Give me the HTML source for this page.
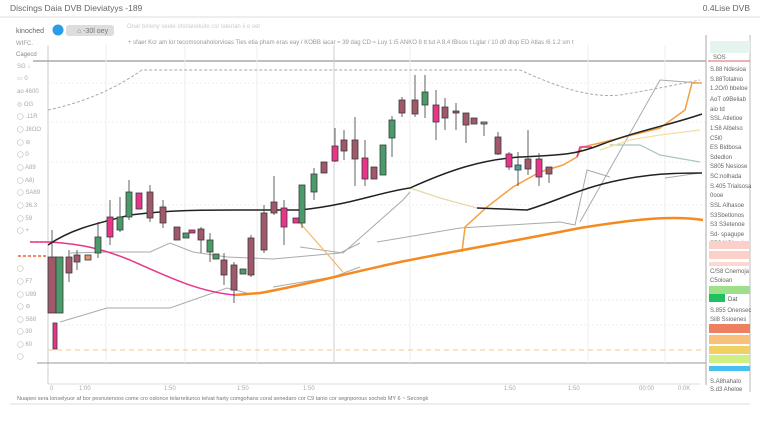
<!DOCTYPE html>
<html><head><meta charset="utf-8"><style>
html,body{margin:0;padding:0;background:#fff;}
body{width:760px;height:426px;overflow:hidden;font-family:"Liberation Sans",sans-serif;}
text{font-family:"Liberation Sans",sans-serif;}
</style></head><body>
<svg width="760" height="426" viewBox="0 0 760 426" xmlns="http://www.w3.org/2000/svg">
<rect width="760" height="426" fill="#fff"/>
<!-- header -->
<text x="10" y="11" font-size="8.5" fill="#666">Discings Daia DVB   Dieviatyys -189</text>
<text x="750" y="11" font-size="8.5" fill="#666" text-anchor="end">0.4Lise DVB</text>
<line x1="0" y1="17" x2="760" y2="17" stroke="#ddd"/>
<text x="16" y="33" font-size="7" fill="#666">kinoched</text>
<circle cx="58" cy="30" r="5.5" fill="#2a9ce8"/>
<rect x="66" y="25" width="48" height="11" rx="3" fill="#ddd"/>
<text x="77" y="33" font-size="7" fill="#777">⌂ -30l oey</text>
<text x="127" y="28" font-size="6" fill="#ccc">Onar  bineny seele oholaneluite csr laterian ii e oet</text>
<text x="128" y="44" font-size="6" fill="#999">+ sfaer Kcr am lor tecomsonaholorvioas  Ties etia pham eras eay   /  KOBB iacar  ≈ 39 dag CD ≈ Luy    1:i5 ANKO  8 tt tut  A 8.4 lBisos  t Lglar   /  10 d0 dlop  ED Atlas   /6 1.2 sm t</text>
<text x="16" y="45" font-size="6" fill="#999">WIFC.</text>
<text x="16" y="56" font-size="6" fill="#888">Cagecd</text>
<!-- left sidebar rows -->
<g font-size="6" fill="#aaa">
<text x="17" y="68">SG ↓</text><text x="17" y="80">▭  0</text><text x="17" y="93">ao 4600</text>
<text x="17" y="106">◎  OG</text><text x="17" y="118">◯ .11R</text><text x="17" y="131">◯ J8OO</text>
<text x="17" y="144">◯  ⊖</text><text x="17" y="156">◯   0</text><text x="17" y="169">◯ A89</text>
<text x="17" y="182">◯ A8)</text><text x="17" y="194">◯ SA89</text><text x="17" y="207">◯ 36.3</text>
<text x="17" y="220">◯ 59</text><text x="17" y="232">◯  +</text><text x="17" y="270">◯</text>
<text x="17" y="283">◯ F7</text><text x="17" y="296">◯ U89</text><text x="17" y="308">◯  ⊖</text>
<text x="17" y="321">◯ S68</text><text x="17" y="333">◯  30</text><text x="17" y="346">◯  60</text><text x="17" y="358">◯</text>
</g>
<!-- frame -->
<line x1="48" y1="45" x2="48" y2="384" stroke="#ccc"/>
<line x1="33" y1="61" x2="706" y2="61" stroke="#999" stroke-width="1.2"/>
<line x1="37" y1="363" x2="706" y2="363" stroke="#999" stroke-width="1"/>
<line x1="48" y1="384" x2="700" y2="384" stroke="#ddd"/>
<line x1="706" y1="35" x2="706" y2="385" stroke="#aaa"/>
<line x1="750" y1="35" x2="750" y2="392" stroke="#bbb"/>
<!-- grid -->
<g stroke="#eee">
<line x1="106" y1="45" x2="106" y2="363"/><line x1="185" y1="45" x2="185" y2="363"/>
<line x1="257" y1="45" x2="257" y2="363"/><line x1="410" y1="45" x2="410" y2="363"/>
<line x1="588" y1="45" x2="588" y2="363"/><line x1="665" y1="45" x2="665" y2="363"/>
</g>
<line x1="334" y1="45" x2="334" y2="363" stroke="#ccc"/>
<g stroke="#eee" stroke-dasharray="2,2">
<line x1="48" y1="83" x2="705" y2="83"/><line x1="48" y1="122" x2="705" y2="122"/>
<line x1="48" y1="162" x2="705" y2="162"/><line x1="48" y1="205" x2="705" y2="205"/>
<line x1="48" y1="300" x2="705" y2="300"/><line x1="48" y1="325" x2="705" y2="325"/>
</g>
<!-- dashed horizontal -->
<line x1="48" y1="350" x2="705" y2="350" stroke="#f5c98a" stroke-dasharray="5,4"/>
<line x1="18" y1="256" x2="47" y2="256" stroke="#f06030" stroke-width="1.5" stroke-dasharray="3,2"/>
<line x1="30" y1="242" x2="47" y2="242" stroke="#e8358a" stroke-width="1.2" stroke-dasharray="3,2"/>
<!-- top dashed line -->
<path d="M48,110 C80,103 110,92 142,70 L520,70 C560,88 590,98 620,95 C650,90 680,84 700,80" fill="none" stroke="#aaa" stroke-dasharray="3,2"/>
<!-- gray lines -->
<g fill="none" stroke="#aaa" stroke-width="1">
<polyline points="70,253 107,252 150,252 170,243 193,252 227,257 273,259 340,253 360,243"/>
<polyline points="300,247 343,253 403,200 410,192"/>
<polyline points="60,322 107,308 170,308 227,288 247,293"/>
<polyline points="273,287 333,277 360,267"/>
<polyline points="377,242 460,228 560,222 575,225 587,170 610,177 587,170"/>
<polyline points="580,222 660,80 700,83"/>
<polyline points="665,178 700,173"/>
</g>
<!-- pale lines -->
<polyline points="410,188 440,198 477,208" fill="none" stroke="#e8d8a8" stroke-width="1.2"/>
<polyline points="610,145 640,145 660,155 700,162" fill="none" stroke="#a8c8b8" stroke-width="1.2"/>
<polyline points="600,150 630,140 660,135 700,130" fill="none" stroke="#f3dfa0" stroke-width="1.2"/>
<!-- orange light -->
<polyline points="300,223 343,272" fill="none" stroke="#f5b86a" stroke-width="1.2"/>
<polyline points="462,252 465,227 487,207 513,187 540,172 563,165 577,157 582,147 600,143 640,133 660,128 685,110 692,83 702,83" fill="none" stroke="#f5a040" stroke-width="1.5"/>
<polyline points="577,157 580,147 592,147" fill="none" stroke="#e8358a" stroke-width="1.5"/>
<!-- pink line -->
<path d="M30,242 L50,242 C80,244 100,248 130,260 C170,278 200,292 235,295" fill="none" stroke="#e8358a" stroke-width="1.5"/>
<!-- orange thick -->
<path d="M235,295 L260,293 C300,286 340,275 400,262 C460,250 520,240 580,228 C630,220 670,215 703,220" fill="none" stroke="#f58a20" stroke-width="2.5"/>
<!-- black lines -->
<path d="M48,245 C70,230 90,225 130,215 C170,210 200,210 240,210 L300,210 C350,205 380,192 410,188 C450,170 480,160 520,157 C560,155 575,155 600,145 C640,130 670,125 702,114" fill="none" stroke="#222" stroke-width="1.5"/>
<path d="M477,208 L527,210 C560,200 580,188 620,180 C650,174 670,173 702,173" fill="none" stroke="#222" stroke-width="1.5"/>
<!-- candles -->
<g stroke="#333" stroke-width="0.8">
<script></script>
</g>
<g id="c" stroke="#444" stroke-width="0.8"></g>
<!-- candles drawn -->
<g stroke="#3a3a3a" stroke-width="0.8">
<line x1="52" y1="230" x2="52" y2="313"/><rect x="48" y="257" width="8" height="56" fill="#a0586a"/>
<rect x="56" y="257" width="7" height="56" fill="#4a9a6a"/>
<rect x="53" y="323" width="4" height="26" fill="#e8358a"/>
<line x1="69" y1="250" x2="69" y2="282"/><rect x="66" y="257" width="6" height="16" fill="#a0586a"/>
<line x1="77" y1="250" x2="77" y2="270"/><rect x="74" y="255" width="6" height="7" fill="#a0586a"/>
<rect x="85" y="255" width="6" height="5" fill="#e8906a"/>
<line x1="98" y1="222" x2="98" y2="258"/><rect x="95" y="237" width="6" height="16" fill="#4a9a6a"/>
<line x1="110" y1="200" x2="110" y2="245"/><rect x="107" y="217" width="6" height="20" fill="#e8358a"/>
<line x1="120" y1="197" x2="120" y2="232"/><rect x="117" y="217" width="6" height="13" fill="#4a9a6a"/>
<line x1="129" y1="180" x2="129" y2="220"/><rect x="126" y="192" width="6" height="25" fill="#4a9a6a"/>
<rect x="136" y="193" width="6" height="16" fill="#e8358a"/>
<line x1="150" y1="185" x2="150" y2="222"/><rect x="147" y="192" width="6" height="26" fill="#a0586a"/>
<line x1="163" y1="200" x2="163" y2="228"/><rect x="160" y="207" width="6" height="16" fill="#a0586a"/>
<rect x="174" y="227" width="6" height="13" fill="#a0586a"/>
<rect x="183" y="233" width="6" height="5" fill="#4a9a6a"/>
<rect x="189" y="230" width="6" height="3" fill="#e8358a"/>
<line x1="201" y1="227" x2="201" y2="253"/><rect x="198" y="229" width="6" height="11" fill="#a0586a"/>
<line x1="210" y1="233" x2="210" y2="262"/><rect x="207" y="240" width="6" height="12" fill="#4a9a6a"/>
<rect x="213" y="254" width="6" height="5" fill="#4a9a6a"/>
<line x1="224" y1="253" x2="224" y2="285"/><rect x="221" y="260" width="6" height="15" fill="#a0586a"/>
<line x1="234" y1="262" x2="234" y2="303"/><rect x="231" y="265" width="6" height="25" fill="#a0586a"/>
<rect x="240" y="269" width="6" height="5" fill="#4a9a6a"/>
<line x1="251" y1="235" x2="251" y2="277"/><rect x="248" y="238" width="6" height="37" fill="#a0586a"/>
<line x1="264" y1="205" x2="264" y2="253"/><rect x="261" y="213" width="6" height="37" fill="#a0586a"/>
<line x1="274" y1="176" x2="274" y2="215"/><rect x="271" y="202" width="6" height="11" fill="#a0586a"/>
<line x1="284" y1="200" x2="284" y2="245"/><rect x="281" y="208" width="6" height="19" fill="#e8358a"/>
<rect x="293" y="218" width="6" height="5" fill="#e8358a"/>
<line x1="302" y1="185" x2="302" y2="228"/><rect x="299" y="185" width="6" height="38" fill="#4a9a6a"/>
<line x1="314" y1="168" x2="314" y2="200"/><rect x="311" y="174" width="6" height="18" fill="#4a9a6a"/>
<rect x="321" y="162" width="6" height="11" fill="#a0586a"/>
<line x1="335" y1="128" x2="335" y2="162"/><rect x="332" y="146" width="6" height="15" fill="#e8358a"/>
<line x1="344" y1="130" x2="344" y2="160"/><rect x="341" y="140" width="6" height="11" fill="#a0586a"/>
<line x1="355" y1="117" x2="355" y2="186"/><rect x="352" y="140" width="6" height="19" fill="#a0586a"/>
<line x1="365" y1="140" x2="365" y2="186"/><rect x="362" y="158" width="6" height="21" fill="#e8358a"/>
<rect x="371" y="167" width="6" height="12" fill="#a0586a"/>
<rect x="380" y="145" width="6" height="30" fill="#4a9a6a"/>
<line x1="392" y1="116" x2="392" y2="157"/><rect x="389" y="120" width="6" height="18" fill="#4a9a6a"/>
<line x1="402" y1="97" x2="402" y2="117"/><rect x="399" y="100" width="6" height="13" fill="#a0586a"/>
<line x1="415" y1="75" x2="415" y2="117"/><rect x="412" y="100" width="6" height="14" fill="#a0586a"/>
<line x1="425" y1="75" x2="425" y2="118"/><rect x="422" y="92" width="6" height="13" fill="#4a9a6a"/>
<line x1="436" y1="90" x2="436" y2="140"/><rect x="433" y="105" width="6" height="17" fill="#e8358a"/>
<line x1="445" y1="98" x2="445" y2="130"/><rect x="442" y="107" width="6" height="11" fill="#a0586a"/>
<line x1="456" y1="103" x2="456" y2="130"/><rect x="453" y="111" width="6" height="2" fill="#a0586a"/>
<line x1="466" y1="113" x2="466" y2="143"/><rect x="463" y="113" width="6" height="12" fill="#a0586a"/>
<rect x="471" y="118" width="6" height="6" fill="#a0586a"/>
<line x1="484" y1="122" x2="484" y2="136"/><rect x="481" y="122" width="6" height="2" fill="#7aa090"/>
<line x1="498" y1="132" x2="498" y2="155"/><rect x="495" y="137" width="6" height="17" fill="#a0586a"/>
<line x1="509" y1="152" x2="509" y2="170"/><rect x="506" y="154" width="6" height="13" fill="#e8358a"/>
<line x1="518" y1="152" x2="518" y2="186"/><rect x="515" y="165" width="6" height="5" fill="#4aa0a0"/>
<line x1="528" y1="130" x2="528" y2="175"/><rect x="525" y="159" width="6" height="10" fill="#a0586a"/>
<line x1="539" y1="153" x2="539" y2="186"/><rect x="536" y="159" width="6" height="18" fill="#e8358a"/>
<line x1="549" y1="167" x2="549" y2="183"/><rect x="546" y="167" width="6" height="7" fill="#a0586a"/>
</g>
<!-- right panel -->
<rect x="710" y="41" width="40" height="12" fill="#e6f4ee"/>
<line x1="708" y1="61" x2="750" y2="61" stroke="#e08080" stroke-width="1.2"/>
<g font-size="6" fill="#666">
<text x="713" y="59">SOS</text>
<text x="710" y="71">S.88 Ndesioa</text><text x="710" y="81">S.88Totalnio</text><text x="710" y="90">1.2O/0 bbeloe</text>
<text x="710" y="101">AoT o9Beliab</text><text x="710" y="111">aio td</text><text x="710" y="120">SSL Atletioe</text>
<text x="710" y="130">1:58 Albelso</text><text x="710" y="140">C5l0</text><text x="710" y="149">ES Bidbosa</text>
<text x="710" y="159">Sdedlon</text><text x="710" y="168">S805 Nesiose</text><text x="710" y="178">SC:nolhada</text>
<text x="710" y="188">S.405 Trialsosa</text><text x="710" y="197">0ooe</text><text x="710" y="207">SSL Alhasoe</text>
<text x="710" y="217">S3Sbetlonos</text><text x="710" y="226">S3 S3etenoe</text><text x="710" y="236">Sd- spagupe</text>
<text x="710" y="245">S5S NOloade</text>
</g>
<rect x="709" y="241" width="41" height="8" fill="#fbd0c8"/>
<rect x="709" y="251" width="41" height="8" fill="#fbd0c8"/>
<rect x="709" y="262" width="41" height="4" fill="#fbd8d0"/>
<text x="710" y="273" font-size="6" fill="#666">C/S8 Cnemoja</text>
<text x="710" y="282" font-size="6" fill="#666">C5oloan</text>
<rect x="709" y="286" width="41" height="8" fill="#9ee08a"/>
<rect x="709" y="294" width="16" height="8" fill="#1ec060"/>
<text x="728" y="301" font-size="6" fill="#555">Dat</text>
<text x="710" y="312" font-size="6" fill="#666">S.855 Onensec</text>
<text x="710" y="321" font-size="6" fill="#666">Sil8 Ssioenes</text>
<rect x="709" y="324" width="41" height="9" fill="#ee8060"/>
<rect x="709" y="335" width="41" height="9" fill="#f8c078"/>
<rect x="709" y="346" width="41" height="8" fill="#f0d060"/>
<rect x="709" y="355" width="41" height="8" fill="#cff080"/>
<rect x="709" y="366" width="41" height="5" fill="#48c0f0"/>
<text x="710" y="383" font-size="6" fill="#666">S.A8hahalo</text>
<text x="710" y="391" font-size="6" fill="#666">S.d3 Aheloe</text>
<!-- x axis labels -->
<g font-size="6" fill="#aaa">
<text x="50" y="390">0</text><text x="79" y="390">1:00</text><text x="164" y="390">1:50</text>
<text x="237" y="390">1:50</text><text x="303" y="390">1:50</text><text x="504" y="390">1:50</text>
<text x="568" y="390">1:50</text><text x="639" y="390">00:00</text><text x="678" y="390">0:0K</text>
</g>
<text x="17" y="400" font-size="5.5" fill="#777">Nuapeo sera lonselyuor af bor pesnutenoos come cro oslonce telarretiunco telvat harty comgohans coral senedaro cor C9 tanio cor segnporous socheb MY 6 ~ Secongk</text>
<line x1="10" y1="404" x2="750" y2="404" stroke="#ddd"/>
</svg>
</body></html>
